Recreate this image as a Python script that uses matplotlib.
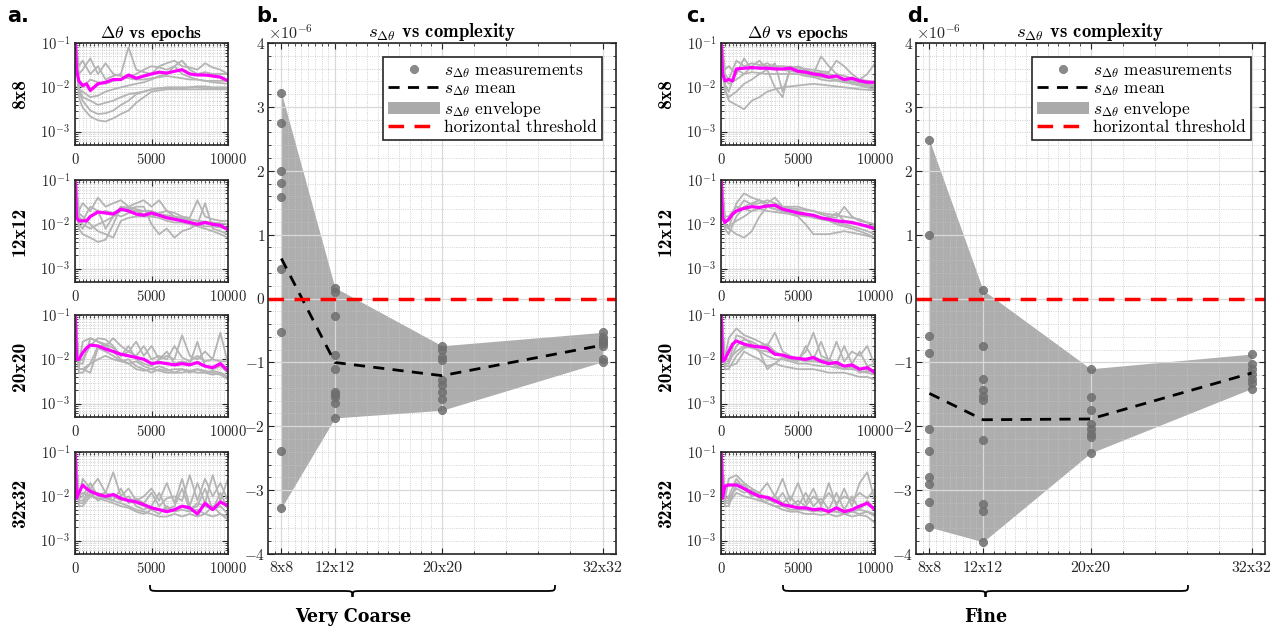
import matplotlib
matplotlib.use("Agg")
import matplotlib.pyplot as plt
import numpy as np
from matplotlib.path import Path
from matplotlib.patches import PathPatch, Patch
from matplotlib.lines import Line2D
from matplotlib.ticker import FixedLocator, LogLocator, MultipleLocator, NullFormatter

plt.rcParams['font.family'] = ['cmr10', 'DejaVu Serif']
plt.rcParams['mathtext.fontset'] = 'cm'
plt.rcParams['axes.formatter.use_mathtext'] = True
plt.rcParams['axes.unicode_minus'] = False

# ---- data: delta theta vs epochs (values in units of 1e-3) ----
mean_epochs = [0, 100, 250, 500, 750, 1000, 1500, 2000, 2500, 3000, 3500, 4000,
               4500, 5000, 5500, 6000, 6500, 7000, 7500, 8000, 8500, 9000, 9500, 10000]
run_epochs = [0, 250, 500, 1000, 1500, 2000, 2500, 3000, 3500, 4000, 4500, 5000,
              5500, 6000, 6500, 7000, 7500, 8000, 8500, 9000, 9500, 10000]
grid_labels = ['8x8', '12x12', '20x20', '32x32']
grid_sizes = [8, 12, 20, 32]

# very coarse
vc_8_mean = [150, 25, 14, 11, 12, 8.5, 12, 13, 15, 15, 19, 16, 18, 20, 22, 21, 23, 25, 20, 19, 19, 18, 17, 14]
vc_8_runs = [
    [150, 6, 3.5, 2.2, 1.8, 1.7, 2, 2.5, 3, 4.5, 6, 8, 8.5, 9, 9, 9, 9, 9, 9, 9, 9, 9],
    [150, 8, 5, 3, 2.5, 2.6, 3, 4, 5, 7, 8, 9, 9.5, 9.5, 9.5, 9.5, 10, 10, 9.5, 9.5, 9.5, 9],
    [150, 10, 6, 5, 4, 4.5, 5, 6, 7, 7.5, 8, 9, 9.5, 10, 10, 10, 10, 10.5, 10.5, 10, 10, 10],
    [150, 30, 40, 20, 30, 15, 18, 20, 80, 25, 22, 20, 30, 35, 40, 30, 28, 25, 35, 28, 25, 20],
    [150, 12, 10, 15, 13, 12, 14, 15, 17, 20, 25, 30, 28, 25, 30, 40, 25, 20, 22, 20, 20, 20],
    [150, 9, 8, 6, 6.5, 8, 9, 10, 11, 12, 13, 15, 18, 20, 30, 20, 17, 15, 14, 13, 12.5, 12],
    [150, 20, 25, 45, 20, 35, 20, 18, 16, 15, 15, 16, 17, 18, 17, 16, 15, 15, 14, 14, 14, 14],
]
vc_12_mean = [150, 14, 12, 12, 12, 15, 19, 18, 17, 22, 20, 17, 16, 18, 16, 14, 13, 12, 11, 10, 11, 10, 9.5, 7.5]
vc_12_runs = [
    [150, 8, 6, 5, 4, 4.5, 10, 25, 22, 20, 17, 15, 14, 12, 11, 11, 10, 10, 9, 9, 8.5, 8],
    [150, 12, 10, 8, 10, 12, 15, 20, 22, 25, 25, 10, 6, 8, 5, 7, 8, 10, 30, 8, 7, 6],
    [150, 20, 30, 20, 40, 25, 30, 35, 25, 30, 35, 25, 35, 20, 18, 15, 14, 35, 15, 13, 12, 12],
    [150, 10, 8, 15, 18, 20, 18, 15, 18, 20, 20, 20, 17, 15, 14, 13, 12.5, 12, 11, 10, 9, 8],
    [150, 15, 12, 25, 20, 8, 15, 25, 24, 22, 20, 18, 17, 16, 15, 14, 13, 12, 11.5, 11, 10.5, 10],
    [150, 18, 15, 10, 7, 6, 5, 12, 14, 15, 15, 15, 18, 20, 15, 12, 10, 9, 8, 7, 6, 5],
]
vc_20_mean = [150, 10, 10, 14, 18, 21, 20, 17, 15, 13, 12, 11, 10, 8, 8.5, 8, 7.5, 8, 7.5, 8.5, 7, 6.5, 8, 5.5]
vc_20_runs = [
    [150, 7, 25, 30, 25, 20, 30, 20, 15, 25, 12, 20, 10, 12, 10, 35, 12, 10, 15, 10, 40, 8],
    [150, 6, 6, 8, 20, 20, 15, 10, 8, 9, 7, 6, 5.5, 5, 5, 5, 5.5, 6, 5.5, 5, 4.5, 3.5],
    [150, 8, 8, 30, 25, 22, 18, 12, 20, 10, 8, 7, 10, 15, 8, 9, 8, 25, 7, 6, 7, 5],
    [150, 6, 6, 5, 18, 15, 12, 9, 10, 7, 6, 5, 6, 5.5, 6, 6, 5.5, 5, 5, 5.5, 5, 4],
    [150, 9, 10, 20, 30, 28, 20, 12, 15, 12, 20, 10, 12, 10, 20, 11, 9, 12, 9, 10, 9, 9],
    [150, 5, 5, 8, 10, 12, 10, 9, 8, 6, 5.5, 6, 7, 6, 5, 6, 5, 6, 5, 4.5, 5, 4],
]
vc_32_mean = [150, 9, 12, 18, 15, 13, 11, 10, 11, 9, 8, 7.5, 6.5, 5.5, 5, 4.5, 5, 6, 5.5, 4, 7, 5, 7.5, 6]
vc_32_runs = [
    [150, 8, 25, 15, 25, 12, 35, 10, 15, 8, 10, 15, 8, 20, 7, 25, 6, 20, 7, 30, 8, 25],
    [150, 7, 7, 12, 8, 10, 8, 7, 6, 5, 4.5, 4, 3.5, 3.5, 4, 3.5, 4, 3.5, 4, 3.5, 4, 3],
    [150, 9, 10, 20, 10, 9, 10, 8, 10, 6, 5, 6, 12, 5, 6, 15, 5, 6, 15, 5, 12, 5],
    [150, 6, 6, 10, 9, 8, 7, 6, 5.5, 4.5, 4, 5, 4, 6, 4.5, 5, 4.5, 5, 4, 6, 4, 3.5],
    [150, 10, 12, 10, 12, 9, 8, 15, 7, 9, 7, 12, 6, 9, 10, 8, 30, 8, 25, 10, 20, 8],
    [150, 8, 8, 15, 11, 12, 10, 9, 8, 7, 6, 5, 5, 5, 5, 6, 5, 7, 6, 5, 6, 4],
]

# fine
f_8_mean = [150, 20, 14, 15, 14, 26, 27, 28, 27, 27, 26, 26, 27, 23, 22, 20, 19, 17, 18, 15, 16, 14, 13, 13]
f_8_runs = [
    [150, 10, 5, 4, 3.2, 5, 6, 8, 9, 10, 10.5, 11, 11.5, 12, 11.5, 11, 10.5, 10, 9.5, 9, 8.8, 8.5],
    [150, 12, 8, 25, 20, 30, 40, 25, 35, 8, 25, 30, 25, 20, 50, 30, 20, 18, 16, 15, 14, 13],
    [150, 20, 15, 40, 30, 35, 32, 30, 30, 30, 29, 28, 26, 25, 23, 22, 40, 30, 20, 15, 20, 35],
    [150, 8, 6, 8, 12, 15, 20, 25, 10, 6, 30, 25, 24, 22, 21, 20, 18, 15, 14, 13, 12, 11],
    [150, 25, 30, 20, 45, 25, 30, 35, 28, 25, 23, 22, 20, 18, 17, 16, 15, 14, 13, 12, 11, 10],
    [150, 15, 12, 15, 20, 22, 21, 20, 20, 20, 20, 20, 18, 17, 15, 14, 14, 13, 12, 11, 10, 9],
]
f_12_mean = [150, 14, 11, 13, 17, 20, 23, 25, 24, 26, 27, 22, 20, 18, 17, 16, 14, 13, 12, 11.5, 11, 10, 9, 8]
f_12_runs = [
    [150, 10, 8, 30, 50, 40, 35, 30, 40, 25, 23, 22, 21, 20, 17, 15, 14, 25, 15, 12, 11, 10],
    [150, 9, 8, 6, 5, 7, 15, 25, 22, 20, 19, 18, 16, 14, 13, 12, 10, 9, 8, 7, 6, 5],
    [150, 8, 6, 15, 25, 30, 35, 25, 22, 20, 17, 15, 10, 6, 6, 6, 6.5, 7, 6.5, 6, 5.5, 5],
    [150, 12, 12, 20, 35, 28, 30, 35, 30, 25, 25, 25, 22, 20, 18, 17, 16, 15, 14, 13, 11, 10],
    [150, 10, 9, 12, 15, 20, 22, 20, 19, 18, 17, 16, 15, 15, 14, 13, 11, 10, 9, 8, 7, 6],
    [150, 15, 15, 25, 22, 20, 24, 28, 25, 22, 21, 20, 17, 15, 14, 14, 18, 12, 11, 10, 9.5, 9],
]
f_20_mean = [150, 9, 10, 15, 22, 26, 22, 20, 19, 18, 13, 12.5, 11, 10.5, 10, 11, 9, 8, 8.5, 7, 7.5, 6, 6.5, 5]
f_20_runs = [
    [150, 10, 30, 50, 35, 30, 25, 20, 40, 15, 12, 10, 15, 40, 12, 10, 8, 20, 8, 15, 7, 8],
    [150, 7, 7, 8, 15, 12, 10, 7, 8, 7, 6.5, 6, 6, 6, 5.5, 5, 5, 5, 4.5, 4, 4, 3.5],
    [150, 8, 8, 20, 28, 25, 20, 22, 15, 12, 10, 9, 20, 10, 25, 9, 7, 6, 7, 5, 5.5, 5],
    [150, 9, 9, 35, 30, 22, 15, 12, 10, 10, 9, 8, 8, 7.5, 7, 7, 6.5, 6, 6, 5.5, 5, 4.5],
    [150, 6, 6, 12, 18, 20, 15, 6, 8, 11, 10, 10, 9, 9, 10, 9, 25, 9, 15, 12, 20, 7],
    [150, 10, 10, 15, 20, 18, 16, 15, 13, 12, 11, 10, 9.5, 9, 8.5, 8, 7.5, 7, 6.5, 6, 6, 5.5],
]
f_32_mean = [150, 9, 17, 18, 18, 18, 15, 12, 10, 9.5, 8, 6.5, 6, 5.5, 5.5, 5, 5.2, 4.5, 5.5, 4.5, 5, 6, 7, 5]
f_32_runs = [
    [150, 8, 25, 30, 20, 15, 12, 20, 10, 25, 8, 20, 7, 15, 6, 20, 6, 15, 6, 20, 35, 8],
    [150, 7, 7, 12, 10, 9, 8, 7, 6, 5, 4.5, 4.5, 4, 4, 3.8, 4, 3.5, 4, 3.5, 3.8, 3.5, 2.5],
    [150, 9, 10, 25, 15, 10, 12, 8, 10, 7, 10, 6, 12, 6, 9, 5, 12, 5, 10, 5, 8, 5],
    [150, 6, 6, 20, 18, 12, 9, 7, 6, 6, 5, 5, 5, 4.5, 5, 4.5, 4.5, 4, 4.5, 4, 4.5, 3.5],
    [150, 9, 9, 15, 12, 14, 10, 9, 7, 12, 6, 8, 6, 10, 7, 12, 7, 10, 8, 12, 9, 15],
    [150, 8, 8, 18, 14, 11, 10, 9, 7.5, 6.5, 6, 5.5, 5, 5, 4.5, 5, 4.5, 5, 4.5, 5, 4.5, 4],
]

# ---- data: s_dtheta measurements per grid (units of 1e-6) ----
vc_s_8 = [3.22, 2.75, 1.99, 1.81, 1.59, 0.46, -0.52, -2.39, -3.28]
vc_s_12 = [0.17, 0.10, -0.27, -0.89, -1.11, -1.47, -1.50, -1.54, -1.64, -1.87]
vc_s_20 = [-0.74, -0.81, -0.92, -0.97, -1.28, -1.36, -1.47, -1.57, -1.75]
vc_s_32 = [-0.53, -0.60, -0.65, -0.68, -0.70, -0.75, -0.94, -0.99]
f_s_8 = [2.48, 0.99, -0.58, -0.86, -2.04, -2.38, -2.80, -2.90, -3.19, -3.58]
f_s_12 = [0.13, -0.74, -1.26, -1.44, -1.52, -1.59, -2.21, -3.21, -3.33, -3.81]
f_s_20 = [-1.10, -1.54, -1.74, -1.96, -2.04, -2.12, -2.17, -2.42]
f_s_32 = [-0.87, -1.02, -1.10, -1.18, -1.26, -1.33, -1.41]

W, H = 1287, 634
fig = plt.figure(figsize=(W / 100, H / 100), dpi=100)


def rect(left, top, w, h):
    return [left / W, 1 - (top + h) / H, w / W, h / H]


def style_frame(ax, size):
    for s in ax.spines.values():
        s.set_color('#262626')
        s.set_linewidth(1.2)
    ax.tick_params(direction='in', which='both', top=True, right=True,
                   labelsize=size, colors='#262626')
    ax.tick_params(which='major', length=4)
    ax.tick_params(which='minor', length=2)


def small_panel(r, mean, runs, label, title=None):
    ax = fig.add_axes(r)
    ax.grid(which='major', color='#d9d9d9', lw=0.9)
    ax.grid(which='minor', color='#c4c4c4', lw=0.6, ls=':')
    for run in runs:
        ax.plot(run_epochs, np.array(run) * 1e-3, color='#b4b4b4', lw=1.3)
    ax.plot(mean_epochs, np.array(mean) * 1e-3, color='#ff00ff', lw=2.3)
    ax.set_yscale('log')
    ax.set_xlim(0, 10000)
    ax.set_ylim(5e-4, 1e-1)
    ax.set_xticks([0, 5000, 10000])
    ax.xaxis.set_minor_locator(MultipleLocator(250))
    ax.set_yticks([1e-3, 1e-2, 1e-1])
    ax.yaxis.set_minor_locator(LogLocator(subs=np.arange(2, 10)))
    ax.yaxis.set_minor_formatter(NullFormatter())
    style_frame(ax, 10.5)
    ax.tick_params(axis='x', pad=5)
    ax.set_ylabel(label, fontfamily='cmb10', fontsize=14)
    ax.yaxis.set_label_coords(-0.3, 0.5)
    if title:
        ax.set_title(title, fontfamily='cmb10', fontsize=12.5, pad=3)
    return ax


def big_panel(r, pts):
    ax = fig.add_axes(r)
    ax.grid(which='major', color='#d9d9d9', lw=0.9)
    ax.grid(which='minor', color='#c4c4c4', lw=0.6, ls=':')
    hi = np.array([max(p) for p in pts]) * 1e-6
    lo = np.array([min(p) for p in pts]) * 1e-6
    mean = np.array([np.mean(p) for p in pts]) * 1e-6
    ax.fill_between(grid_sizes, lo, hi, color='#8c8c8c', alpha=0.7, lw=0)
    for g, p in zip(grid_sizes, pts):
        ax.plot([g] * len(p), np.array(p) * 1e-6, ls='none', marker=(8, 2, 0),
                ms=6, mew=2.2, color='#6e6e6e', alpha=0.85)
    ax.plot(grid_sizes, mean, color='black', ls=(0, (4, 3)), lw=2)
    ax.axhline(0, color='#ff0000', ls=(0, (4.5, 3)), lw=2.5)
    ax.set_xlim(7, 33)
    ax.set_ylim(-4e-6, 4e-6)
    ax.set_xticks(grid_sizes)
    ax.set_xticklabels(grid_labels)
    minor_x = [7.5, 8.5, 9, 9.5, 10, 10.5, 11, 11.5, 12.8, 13.6, 14.4, 15.2, 16,
               16.8, 17.6, 18.4, 19.2, 22.4, 24.8, 27.2, 29.6]
    ax.xaxis.set_minor_locator(FixedLocator(minor_x))
    ax.set_yticks(np.arange(-4, 5) * 1e-6)
    ax.yaxis.set_minor_locator(MultipleLocator(0.2e-6))
    style_frame(ax, 11.5)
    ax.tick_params(axis='y', labelsize=11, pad=2)
    ax.tick_params(axis='x', pad=5)
    ax.yaxis.get_offset_text().set_fontsize(11.5)
    ax.set_title(r'$s_{\Delta\theta}$ vs complexity', fontfamily='cmb10', fontsize=13.5, pad=3)
    handles = [
        Line2D([], [], ls='none', marker=(8, 2, 0), ms=6, mew=2.2, color='#8a8a8a'),
        Line2D([], [], color='black', ls=(0, (4, 3)), lw=2),
        Patch(facecolor='#aaaaaa', edgecolor='none'),
        Line2D([], [], color='#ff0000', ls=(0, (4.5, 3)), lw=2.5),
    ]
    labels = [r'$s_{\Delta\theta}$ measurements', r'$s_{\Delta\theta}$ mean',
              r'$s_{\Delta\theta}$ envelope', 'horizontal threshold']
    leg = ax.legend(handles, labels, loc='upper right', fontsize=12.5, fancybox=False,
                    framealpha=1, edgecolor='#262626', handlelength=3.0,
                    handletextpad=0.25, labelspacing=0.05, borderaxespad=0.8,
                    borderpad=0.3)
    leg.get_frame().set_linewidth(1.2)
    return ax


def brace(x0, x1, ytop, ymid, ybot, r=10):
    xc = (x0 + x1) / 2
    pts = [(x0, ytop), (x0, ymid), (x0, ymid), (x0 + r, ymid),
           (xc - r, ymid), (xc, ymid), (xc, ymid), (xc, ybot),
           (xc, ymid), (xc, ymid), (xc + r, ymid),
           (x1 - r, ymid), (x1, ymid), (x1, ymid), (x1, ytop)]
    codes = [Path.MOVETO, Path.CURVE4, Path.CURVE4, Path.CURVE4,
             Path.LINETO, Path.CURVE4, Path.CURVE4, Path.CURVE4,
             Path.CURVE4, Path.CURVE4, Path.CURVE4,
             Path.LINETO, Path.CURVE4, Path.CURVE4, Path.CURVE4]
    verts = [(x / W, 1 - y / H) for x, y in pts]
    fig.patches.append(PathPatch(Path(verts, codes), transform=fig.transFigure,
                                 fill=False, lw=1.3, color='black'))


tops = [43, 180, 315, 452]
small_title = r'$\mathbf{\Delta}\theta$ vs epochs'

vc_means = [vc_8_mean, vc_12_mean, vc_20_mean, vc_32_mean]
vc_runs = [vc_8_runs, vc_12_runs, vc_20_runs, vc_32_runs]
f_means = [f_8_mean, f_12_mean, f_20_mean, f_32_mean]
f_runs = [f_8_runs, f_12_runs, f_20_runs, f_32_runs]

for i in range(4):
    small_panel(rect(75, tops[i], 153, 102), vc_means[i], vc_runs[i], grid_labels[i],
                small_title if i == 0 else None)
    small_panel(rect(721, tops[i], 154, 102), f_means[i], f_runs[i], grid_labels[i],
                small_title if i == 0 else None)

big_panel(rect(268, 43, 348, 511), [vc_s_8, vc_s_12, vc_s_20, vc_s_32])
big_panel(rect(916, 43, 349, 511), [f_s_8, f_s_12, f_s_20, f_s_32])

for x, lab in [(7, 'a.'), (256, 'b.'), (686, 'c.'), (907, 'd.')]:
    fig.text(x / W, 1 - 16 / H, lab, fontfamily='DejaVu Sans', fontweight='bold',
             fontsize=15, va='center', ha='left')

brace(150, 555, 585, 591, 597)
brace(783, 1188, 585, 591, 597)
fig.text(353 / W, 1 - 617 / H, 'Very Coarse', fontfamily='DejaVu Serif', fontweight='bold',
         fontstretch='condensed', fontsize=14, ha='center', va='center')
fig.text(986 / W, 1 - 617 / H, 'Fine', fontfamily='DejaVu Serif', fontweight='bold',
         fontstretch='condensed', fontsize=14, ha='center', va='center')

fig.savefig('out.png', dpi=100)
